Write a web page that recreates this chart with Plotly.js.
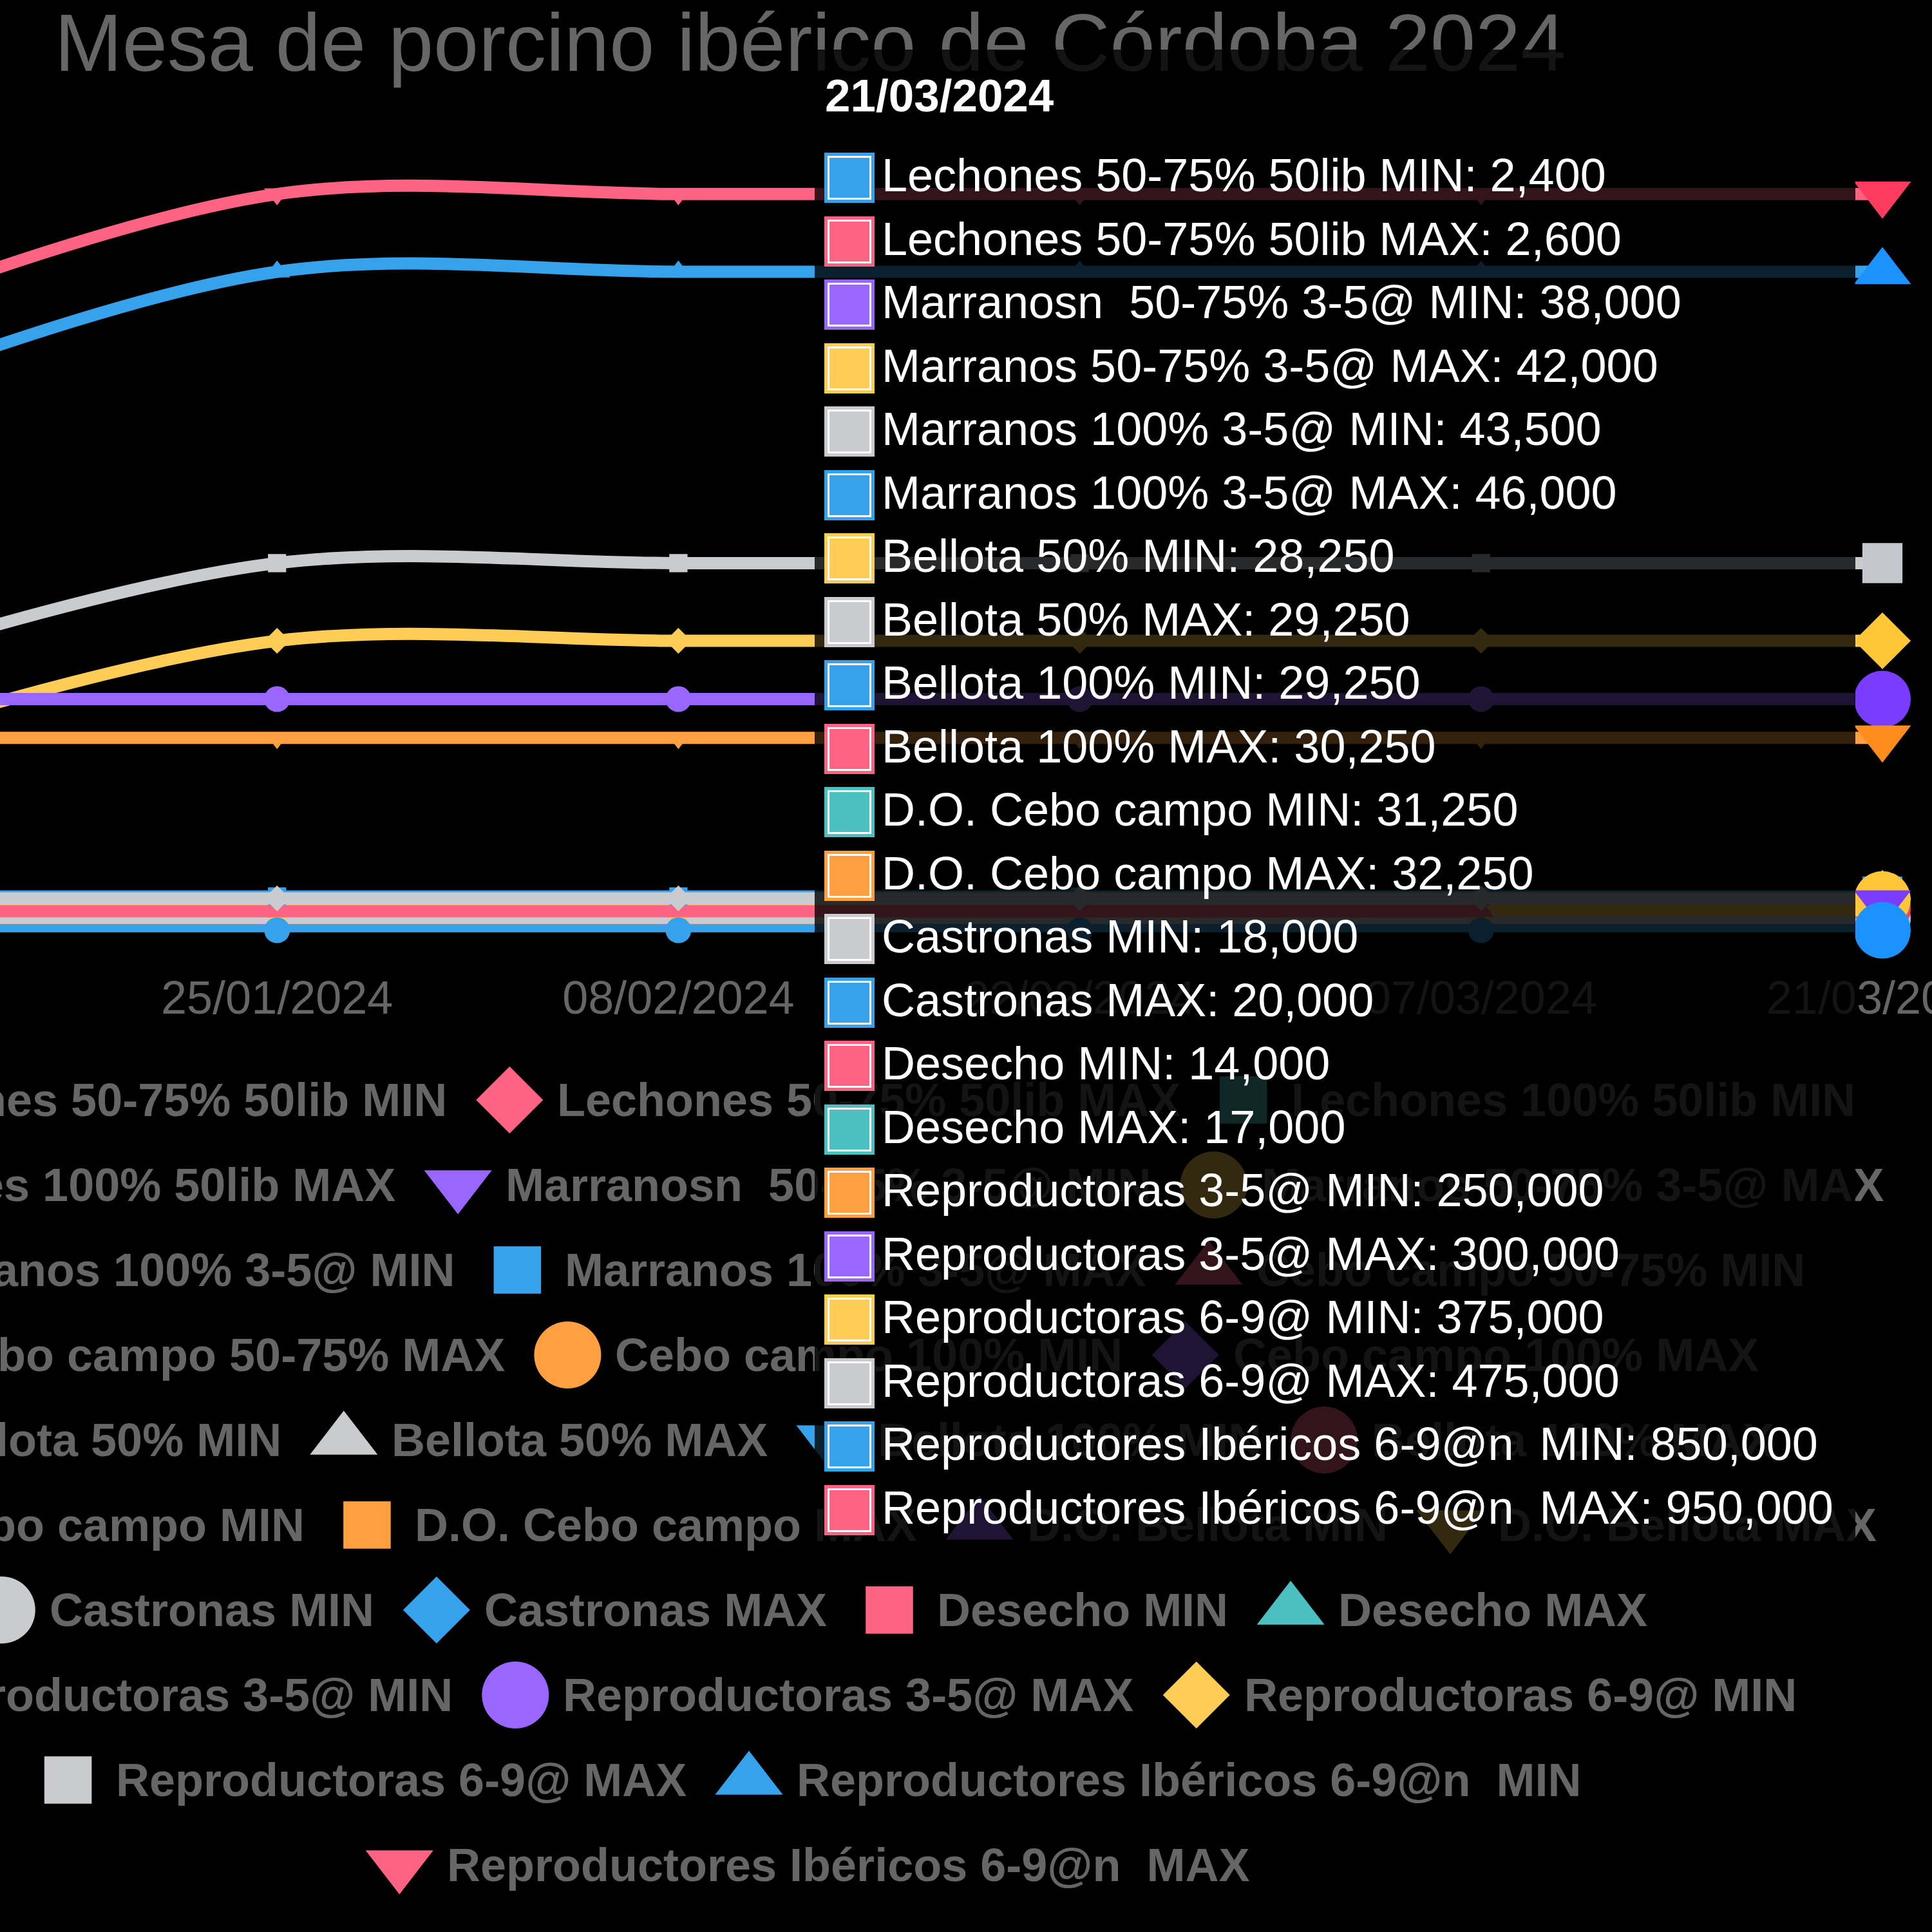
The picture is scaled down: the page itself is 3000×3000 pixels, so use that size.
<!DOCTYPE html>
<html><head><meta charset="utf-8">
<script src="https://cdn.plot.ly/plotly-3.0.1.min.js"></script>
<style>
html,body{margin:0;padding:0;background:#000;overflow:hidden;}
#wrap{position:relative;width:3000px;height:3000px;overflow:hidden;background:#000;}
#chart{position:absolute;left:-540px;top:0;width:3600px;height:3000px;}
</style></head><body>
<div id="wrap"><div id="chart"></div></div>
<script>
// ---------------- DATA ----------------
const chartTitle = 'Mesa de porcino ibérico de Córdoba 2024';
const dates = ['11/01/2024','25/01/2024','08/02/2024','22/02/2024','07/03/2024','21/03/2024'];
const seriesNames = [
  'Lechones 50-75% 50lib MIN','Lechones 50-75% 50lib MAX',
  'Lechones 100% 50lib MIN','Lechones 100% 50lib MAX',
  'Marranosn  50-75% 3-5@ MIN','Marranos 50-75% 3-5@ MAX',
  'Marranos 100% 3-5@ MIN','Marranos 100% 3-5@ MAX',
  'Cebo campo 50-75% MIN','Cebo campo 50-75% MAX',
  'Cebo campo 100% MIN','Cebo campo 100% MAX',
  'Bellota 50% MIN','Bellota 50% MAX','Bellota 100% MIN','Bellota 100% MAX',
  'D.O. Cebo campo MIN','D.O. Cebo campo MAX','D.O. Bellota MIN','D.O. Bellota MAX',
  'Castronas MIN','Castronas MAX','Desecho MIN','Desecho MAX',
  'Reproductoras 3-5@ MIN','Reproductoras 3-5@ MAX',
  'Reproductoras 6-9@ MIN','Reproductoras 6-9@ MAX',
  'Reproductores Ibéricos 6-9@n  MIN','Reproductores Ibéricos 6-9@n  MAX'
];
const lechones5075Min   = [2400, 2400, 2400, 2400, 2400, 2400];
const lechones5075Max   = [2600, 2600, 2600, 2600, 2600, 2600];
const lechones100Min    = [null, null, null, null, null, null];
const lechones100Max    = [null, null, null, null, null, null];
const marranos5075Min   = [null, null, null, null, null, 38000];
const marranos5075Max   = [null, null, null, null, null, 42000];
const marranos100Min    = [43500, 43500, 43500, 43500, 43500, 43500];
const marranos100Max    = [46000, 46000, 46000, 46000, 46000, 46000];
const cebo5075Min       = [27000, 27000, 27000, 27000, 27000, null];
const cebo5075Max       = [null, null, null, null, null, null];
const cebo100Min        = [null, null, null, null, null, null];
const cebo100Max        = [null, null, null, null, null, null];
const bellota50Min      = [28250, 28250, 28250, 28250, 28250, 28250];
const bellota50Max      = [29250, 29250, 29250, 29250, 29250, 29250];
const bellota100Min     = [29250, 29250, 29250, 29250, 29250, 29250];
const bellota100Max     = [30250, 30250, 30250, 30250, 30250, 30250];
const doCeboMin         = [31250, 31250, 31250, 31250, 31250, 31250];
const doCeboMax         = [32250, 32250, 32250, 32250, 32250, 32250];
const doBellotaMin      = [null, null, null, null, null, null];
const doBellotaMax      = [null, null, null, null, null, null];
const castronasMin      = [18000, 18000, 18000, 18000, 18000, 18000];
const castronasMax      = [20000, 20000, 20000, 20000, 20000, 20000];
const desechoMin        = [14000, 14000, 14000, 14000, 14000, 14000];
const desechoMax        = [17000, 17000, 17000, 17000, 17000, 17000];
const reprod35Min       = [250000, 250000, 250000, 250000, 250000, 250000];
const reprod35Max       = [300000, 300000, 300000, 300000, 300000, 300000];
const reprod69Min       = [250000, 375000, 375000, 375000, 375000, 375000];
const reprod69Max       = [350000, 475000, 475000, 475000, 475000, 475000];
const iberMin           = [700000, 850000, 850000, 850000, 850000, 850000];
const iberMax           = [800000, 950000, 950000, 950000, 950000, 950000];
const yTickValues = [0,100000,200000,300000,400000,500000,600000,700000,800000,900000,1000000];

const seriesValues = [
  lechones5075Min, lechones5075Max, lechones100Min, lechones100Max,
  marranos5075Min, marranos5075Max, marranos100Min, marranos100Max,
  cebo5075Min, cebo5075Max, cebo100Min, cebo100Max,
  bellota50Min, bellota50Max, bellota100Min, bellota100Max,
  doCeboMin, doCeboMax, doBellotaMin, doBellotaMax,
  castronasMin, castronasMax, desechoMin, desechoMax,
  reprod35Min, reprod35Max, reprod69Min, reprod69Max, iberMin, iberMax
];

// ---------------- STYLE ----------------
const FONT = '"Liberation Sans", Arial, Helvetica, sans-serif';
const palette = ['rgb(54,162,235)','rgb(255,99,132)','rgb(75,192,192)','rgb(255,159,64)','rgb(153,102,255)','rgb(255,205,86)','rgb(201,203,207)'];
const hoverPalette = ['rgb(28,146,255)','rgb(255,60,96)','rgb(33,207,207)','rgb(255,140,28)','rgb(122,60,255)','rgb(255,198,56)','rgb(196,199,206)'];
const symbols = ['circle','diamond','square','triangle-up','triangle-down'];
function symSize(sym, R) {
  if (sym === 'circle') return 2 * R;
  if (sym === 'diamond') return 2 * R / 1.3;
  if (sym === 'square') return 1.414 * R;
  return 1.75 * R;
}
const display = s => s.replace(/  /g, ' \u00a0');

// page geometry (page px; chart div is offset by OX)
const OX = 540, DIVW = 3600, DIVH = 3000;
const plotLeft = -193, plotRight = 2923, plotTop = 241, plotBottom = 1447.5;

const N = seriesNames.length;
const last = dates.length - 1;
const traces = [];
for (let i = N - 1; i >= 0; i--) {
  const vals = seriesValues[i];
  const sym = symbols[i % 5];
  traces.push({
    type: 'scatter', mode: 'lines+markers', name: seriesNames[i],
    x: dates, y: vals, xaxis: 'x', yaxis: 'y',
    line: {color: palette[i % 7], width: 19, shape: 'spline', smoothing: 1},
    marker: {
      symbol: sym, opacity: 1,
      color: vals.map((v, k) => k === last ? hoverPalette[i % 7] : palette[i % 7]),
      size: vals.map((v, k) => symSize(sym, k === last ? 44 : 20)),
      line: {width: 0}
    },
    connectgaps: false, cliponaxis: false, showlegend: false, hoverinfo: 'skip'
  });
}

// ---------------- LEGEND (Chart.js-like centered rows) ----------------
const LEG = {fontSize: 72, symR: 52, symToText: 73, gap: 46, maxW: 3450, center: 1254, row0: 1708, rowH: 132};
const cv = document.createElement('canvas').getContext('2d');
cv.font = 'bold ' + LEG.fontSize + 'px ' + FONT;
const rows = [];
let cur = [], curW = 0;
seriesNames.forEach((n, i) => {
  const tw = cv.measureText(display(n)).width;
  const iw = LEG.symR + LEG.symToText + tw;
  const add = cur.length ? LEG.gap + iw : iw;
  if (cur.length && curW + add > LEG.maxW) { rows.push({items: cur, w: curW}); cur = []; curW = 0; }
  curW += cur.length ? LEG.gap + iw : iw;
  cur.push({i: i, iw: iw});
});
if (cur.length) rows.push({items: cur, w: curW});

const legX = [], legY = [], legSym = [], legCol = [], legSize = [];
const annotations = [];
rows.forEach((row, r) => {
  let x = LEG.center - row.w / 2;
  const y = LEG.row0 + r * LEG.rowH;
  row.items.forEach(it => {
    const sym = symbols[it.i % 5];
    legX.push(x + LEG.symR); legY.push(y);
    legSym.push(sym); legCol.push(palette[it.i % 7]);
    legSize.push(sym.startsWith('triangle') ? 91 : symSize(sym, LEG.symR));
    annotations.push({
      xref: 'x2', yref: 'y2', x: x + LEG.symR + LEG.symToText, y: y,
      xanchor: 'left', yanchor: 'middle', showarrow: false, borderpad: 0,
      text: display(seriesNames[it.i]),
      font: {family: FONT, size: LEG.fontSize, color: '#666', weight: 'bold'}
    });
    x += it.iw + LEG.gap;
  });
});
traces.push({
  type: 'scatter', mode: 'markers', x: legX, y: legY, xaxis: 'x2', yaxis: 'y2',
  marker: {symbol: legSym, color: legCol, size: legSize, opacity: 1, line: {width: 0}},
  cliponaxis: false, showlegend: false, hoverinfo: 'skip'
});

// ---------------- TOOLTIP (values at last date) ----------------
const TT = {left: 1265, right: 2881, top: 77, bottom: 2420, headX: 1280, headY: 148,
            row0: 272, rowH: 98.5, boxX: 1280, box: 78, inset: 5, ring: 3, textX: 1368};
annotations.push({
  xref: 'x2', yref: 'y2', x: TT.left, y: TT.top, xanchor: 'left', yanchor: 'top',
  width: TT.right - TT.left, height: TT.bottom - TT.top, text: ' ', showarrow: false,
  bgcolor: 'rgba(0,0,0,0.8)', borderpad: 0, borderwidth: 0
});
annotations.push({
  xref: 'x2', yref: 'y2', x: TT.headX, y: TT.headY, xanchor: 'left', yanchor: 'middle',
  text: '<b>' + dates[last] + '</b>', showarrow: false, borderpad: 0,
  font: {family: FONT, size: 71, color: '#fff'}
});
let rowIdx = 0;
seriesValues.forEach((vals, i) => {
  const v = vals[last];
  if (v === null || v === undefined) return;
  const y = TT.row0 + rowIdx * TT.rowH;
  const col = palette[i % 7];
  annotations.push({
    xref: 'x2', yref: 'y2', x: TT.boxX, y: y + 4, xanchor: 'left', yanchor: 'middle',
    width: TT.box, height: TT.box, text: ' ', showarrow: false,
    bgcolor: col, borderpad: 0, borderwidth: 0
  });
  const inner = TT.box - 2 * TT.inset - 2 * TT.ring;
  annotations.push({
    xref: 'x2', yref: 'y2', x: TT.boxX + TT.inset, y: y + 4, xanchor: 'left', yanchor: 'middle',
    width: inner, height: inner, text: ' ', showarrow: false,
    bgcolor: col, bordercolor: '#fff', borderwidth: TT.ring, borderpad: 0
  });
  annotations.push({
    xref: 'x2', yref: 'y2', x: TT.textX, y: y, xanchor: 'left', yanchor: 'middle',
    text: display(seriesNames[i]) + ': ' + v.toLocaleString('en-US'), showarrow: false, borderpad: 0,
    font: {family: FONT, size: 72, color: '#fff'}
  });
  rowIdx++;
});

// ---------------- LAYOUT ----------------
const layout = {
  width: DIVW, height: DIVH,
  paper_bgcolor: '#000', plot_bgcolor: 'rgba(0,0,0,0)',
  margin: {l: 0, r: 0, t: 0, b: 0, pad: 0},
  showlegend: false,
  title: {
    text: chartTitle, xref: 'container', yref: 'container',
    x: (1258 + OX) / DIVW, xanchor: 'center', y: 1 - 22 / DIVH, yanchor: 'top',
    font: {family: FONT, size: 126, color: '#666'}
  },
  xaxis: {
    type: 'category', categoryorder: 'array', categoryarray: dates, range: [0, dates.length - 1],
    domain: [(plotLeft + OX) / DIVW, (plotRight + OX) / DIVW], anchor: 'y',
    showgrid: false, zeroline: false, showline: false, ticks: '',
    ticklabelstandoff: 53, tickangle: 0,
    tickfont: {family: FONT, size: 72, color: '#666'}, fixedrange: true
  },
  yaxis: {
    range: [0, 1000000], tickvals: yTickValues, tickformat: ',d',
    domain: [1 - plotBottom / DIVH, 1 - plotTop / DIVH], anchor: 'x',
    showgrid: false, zeroline: false, showline: false, ticks: '',
    ticklabelstandoff: 30,
    tickfont: {family: FONT, size: 72, color: '#666'}, fixedrange: true
  },
  xaxis2: {range: [-OX, DIVW - OX], domain: [0, 1], anchor: 'y2', visible: false, fixedrange: true},
  yaxis2: {range: [DIVH, 0], domain: [0, 1], anchor: 'x2', visible: false, fixedrange: true},
  annotations: annotations
};

Plotly.newPlot('chart', traces, layout, {displayModeBar: false, staticPlot: true});
</script>
</body></html>
